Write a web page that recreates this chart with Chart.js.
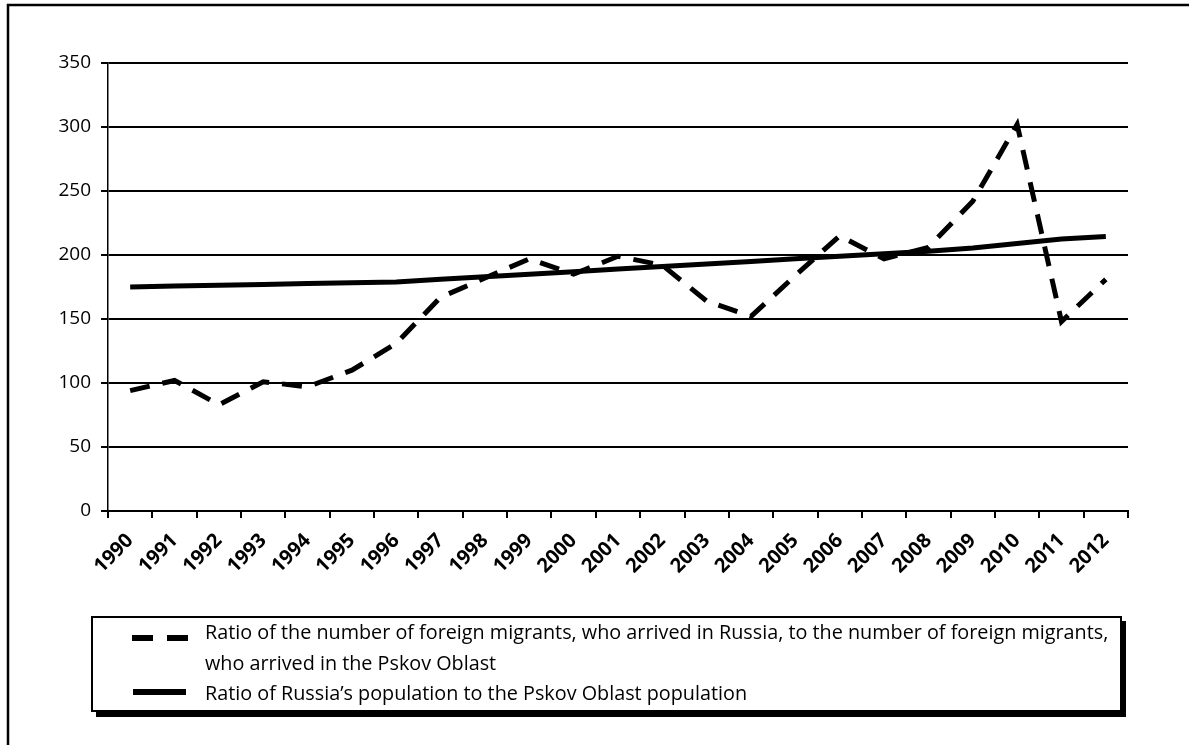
<!DOCTYPE html>
<html>
<head>
<meta charset="utf-8">
<script src="https://cdn.jsdelivr.net/npm/chart.js@4.4.0/dist/chart.umd.min.js"></script>
<style>
  html, body { margin: 0; padding: 0; background: #fff; overflow: hidden; }
</style>
</head>
<body>
<canvas id="chart" width="1189" height="745"></canvas>
<script>
// values
var years = ["1990", "1991", "1992", "1993", "1994", "1995", "1996", "1997", "1998", "1999", "2000", "2001",
             "2002", "2003", "2004", "2005", "2006", "2007", "2008", "2009", "2010", "2011", "2012"];
var migrantRatio = [94, 102, 83, 101, 97, 110, 131, 167, 182, 197, 185, 199,
                    192, 164, 152, 184, 215, 197, 206, 242, 302, 148, 181];
var populationRatio = [175, 175.7, 176.3, 177, 177.7, 178.3, 179, 181, 183, 185, 187, 189,
                       191, 193, 195, 197, 199, 201, 203, 205.5, 209, 212.5, 214.5];
var yMin = 0;
var yMax = 350;
var yStep = 50;
var legendMigrants = ["Ratio of the number of foreign migrants, who arrived in Russia, to the number of foreign migrants,",
                      "who arrived in the Pskov Oblast"];
var legendPopulation = "Ratio of Russia\u2019s population to the Pskov Oblast population";

var FONT = "'Open Sans', 'Liberation Sans', sans-serif";

// white page + outer frame (only top and left edges are visible)
var framePlugin = {
  id: "frame",
  beforeDraw: function (chart) {
    var ctx = chart.ctx;
    ctx.save();
    ctx.fillStyle = "#ffffff";
    ctx.fillRect(0, 0, chart.width, chart.height);
    ctx.restore();
  },
  afterDraw: function (chart) {
    var ctx = chart.ctx;
    ctx.save();
    ctx.strokeStyle = "#000";
    ctx.lineWidth = 2.5;
    ctx.beginPath();
    ctx.moveTo(8, chart.height + 5);
    ctx.lineTo(8, 5);
    ctx.lineTo(chart.width + 5, 5);
    ctx.stroke();
    ctx.restore();
  }
};

// boxed legend below the axis, with a drop shadow like the original
var legendPlugin = {
  id: "boxLegend",
  afterDraw: function (chart) {
    var ctx = chart.ctx;
    var ds = chart.data.datasets;
    var x0 = 92, y0 = 617, x1 = 1121, y1 = 711;
    ctx.save();
    ctx.fillStyle = "#000";
    ctx.fillRect(x0 + 4, y0 + 4, x1 - x0 + 1, y1 - y0 + 2);
    ctx.fillStyle = "#fff";
    ctx.fillRect(x0, y0, x1 - x0, y1 - y0);
    ctx.strokeStyle = "#000";
    ctx.lineWidth = 2;
    ctx.strokeRect(x0, y0, x1 - x0, y1 - y0);

    // line samples
    ctx.lineWidth = 6;
    ctx.lineCap = "butt";
    ctx.strokeStyle = ds[0].borderColor;
    ctx.setLineDash([21, 14]);
    ctx.beginPath();
    ctx.moveTo(132, 638);
    ctx.lineTo(188, 638);
    ctx.stroke();
    ctx.setLineDash([]);
    ctx.strokeStyle = ds[1].borderColor;
    ctx.beginPath();
    ctx.moveTo(133, 692);
    ctx.lineTo(186, 692);
    ctx.stroke();

    ctx.fillStyle = "#000";
    ctx.font = "19.8px " + FONT;
    ctx.textBaseline = "alphabetic";
    ctx.textAlign = "left";
    ctx.fillText(ds[0].label[0], 205, 639);
    ctx.fillText(ds[0].label[1], 205, 670);
    ctx.fillText(ds[1].label, 205, 700);
    ctx.restore();
  }
};

var ctx = document.getElementById("chart").getContext("2d");
var chart = new Chart(ctx, {
  type: "line",
  data: {
    labels: years,
    datasets: [
      {
        label: legendMigrants,
        data: migrantRatio,
        borderColor: "#000",
        borderWidth: 5,
        borderDash: [20, 13],
        borderCapStyle: "butt",
        pointRadius: 0,
        tension: 0,
        fill: false
      },
      {
        label: legendPopulation,
        data: populationRatio,
        borderColor: "#000",
        borderWidth: 5,
        pointRadius: 0,
        tension: 0,
        fill: false
      }
    ]
  },
  options: {
    responsive: false,
    animation: false,
    devicePixelRatio: 1,
    layout: { padding: { top: 63, right: 61, bottom: 0, left: 0 } },
    plugins: {
      legend: { display: false },
      tooltip: { enabled: false },
      title: { display: false }
    },
    scales: {
      x: {
        offset: true,
        grid: {
          offset: true,
          drawOnChartArea: false,
          drawTicks: true,
          tickLength: 7,
          color: "#000",
          lineWidth: 2
        },
        border: { display: true, color: "#000", width: 2 },
        ticks: {
          autoSkip: false,
          maxRotation: 45,
          minRotation: 45,
          padding: 11,
          color: "#000",
          font: { family: FONT, size: 20, weight: "bold" }
        },
        afterFit: function (scale) { scale.height = 234; }
      },
      y: {
        min: yMin,
        max: yMax,
        grid: {
          color: "#000",
          lineWidth: 2,
          drawTicks: true,
          tickLength: 7
        },
        border: { display: true, color: "#000", width: 1.5 },
        ticks: {
          stepSize: yStep,
          padding: 10,
          color: "#000",
          font: { family: FONT, size: 19 }
        },
        afterFit: function (scale) { scale.width = 108; }
      }
    }
  },
  plugins: [framePlugin, legendPlugin]
});
</script>
</body>
</html>
